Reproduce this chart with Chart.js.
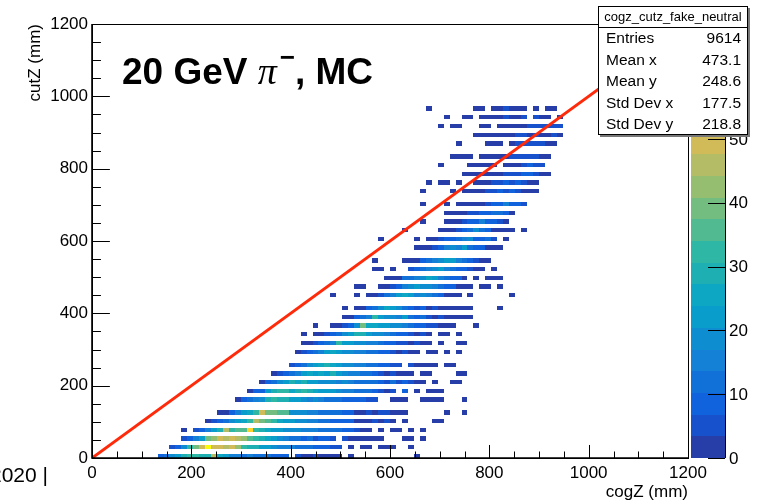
<!DOCTYPE html>
<html>
<head>
<meta charset="utf-8">
<script src="https://cdn.jsdelivr.net/npm/chart.js@4.4.1/dist/chart.umd.min.js"></script>
<style>
  html, body { margin: 0; padding: 0; background: #fff; }
  canvas { display: block; }
</style>
</head>
<body>
<canvas id="c" width="780" height="503"></canvas>
<script>
// ---- histogram binning (mm) ----
const binWidth = 12;                 // 100 bins over 0..1200 on both axes
const axisRange = [0, 1200];
const axisMajorTicks = [0, 200, 400, 600, 800, 1000, 1200];

// cutZ bin centres of the filled rows
const cutZRows = [6, 30, 54, 78, 102, 126, 162, 186, 210, 234, 258,
  294, 318, 342, 366, 390, 414, 450, 474, 498, 522, 546,
  582, 606, 630, 654, 678, 702, 738, 762, 786, 810, 834,
  870, 894, 918, 942, 966];

// first cogZ bin index of every row
const rowFirstBin = [11, 13, 15, 15, 19, 21, 24, 26, 28, 30, 33,
  34, 35, 35, 37, 42, 42, 40, 44, 49, 47, 47,
  54, 48, 52, 55, 59, 55, 55, 56, 62, 58, 60,
  61, 64, 58, 59, 56];

// entries per cogZ bin, starting at rowFirstBin
const rowCounts = [
  [8,12,19,22,29,32,32,29,29,46, 26,22,15,15,12,15,12,12,12,8, 8,8,0,5,3,2,5,2,2,2, 2,0,2,0,0,0,0,0,0,0, 0,0,0,1],
  [5,8,19,32,39,49,67,49,49,46, 49,42,32,29,29,22,22,19,15,15, 15,12,12,12,8,8,8,5,5,0, 2,0,2,1,0,2,1,2,0,0, 1],
  [5,8,15,22,39,42,49,46,49,46, 42,36,32,29,26,22,19,15,12,12, 8,12,5,8,8,5,0,5,2,2, 2,1,2,1,0,0,0,2,2,0, 1],
  [2,0,5,8,15,22,29,46,32,36, 36,60,32,29,26,22,22,19,19,19, 15,15,15,12,12,12,12,8,8,5, 2,2,0,2,0,2,2,0,1,0, 2],
  [2,5,8,12,19,22,26,32,46,39, 36,32,26,22,22,19,19,15,15,12, 12,8,8,8,8,3,2,2,5,2, 5,2,0,2,0,0,0,0,2,2],
  [2,3,8,15,22,26,32,49,39,39, 36,36,19,19,19,15,15,12,12,12, 12,8,8,3,2,5,2,5,5,2, 2,2,0,0,0,0,0,0,2,0, 0,1],
  [2,8,12,15,19,29,32,29,29,22, 22,19,15,19,15,12,12,12,8,8, 8,8,5,5,0,0,2,2,2,0, 0,2,2,1,2,0,0,0,1],
  [2,8,8,22,29,32,32,26,29,32, 29,26,22,22,22,19,15,15,12,12, 12,8,5,2,5,0,8,0,2,0, 2,2,2],
  [2,8,12,19,22,29,26,29,22,22, 19,19,19,15,19,15,12,12,12,12, 8,5,12,5,8,5,2,2,0,2, 0,0,2,1],
  [2,5,8,12,15,22,26,22,26,22, 29,22,19,15,15,12,12,8,5,2, 5,2,2,2,0,2,2,0,0,0, 0,2,2],
  [5,8,12,19,22,26,29,26,22,19, 19,15,15,12,12,8,8,5,5,0, 5,2,2,2,2,0,2,2],
  [2,5,8,12,15,22,26,22,19,19, 15,15,12,12,8,8,5,2,5,2, 2,0,2,2,0,2,0,1],
  [2,2,5,8,12,15,32,22,22,19, 19,15,15,12,8,8,5,5,2,5, 2,2,0,2,0,0,2,2],
  [2,0,2,2,5,8,12,19,22,29, 29,22,19,19,15,12,8,8,5,2, 5,2,0,2,2,0,2],
  [2,0,0,2,2,5,8,19,39,26, 26,22,22,19,19,15,12,8,8,5, 5,2,2,2,0,0,0,1],
  [2,2,8,12,15,32,22,19,19,15, 22,12,8,12,5,2,5,2,2,2, 2,2],
  [2,0,2,2,8,12,19,26,22,19, 12,8,5,8,2,5,2,2,2,2, 2,2,0,0,0,0,2],
  [2,0,0,0,2,0,2,3,5,12, 15,22,26,22,15,19,15,12,8,2, 2,2,0,2,0,0,0,0,0,0, 1],
  [2,2,0,0,2,3,5,8,15,19, 22,19,19,15,12,8,8,2,2,2, 0,2,2,0,1],
  [2,2,3,12,12,15,19,26,22,15, 12,8,8,2,0,2,0,2,2,2],
  [2,2,0,2,0,0,5,8,12,15, 19,22,15,12,8,8,5,2,2,0, 2],
  [2,0,0,0,0,2,2,3,8,12, 15,19,22,22,15,12,8,5,2,2],
  [2,2,3,5,8,15,19,15,22,12, 8,8,2,2,2],
  [2,0,0,0,0,0,2,0,2,2, 5,8,8,12,15,19,8,8,12,5, 0,2],
  [2,0,0,0,0,0,2,2,3,5, 8,12,19,12,8,3,2,2,2,0, 1],
  [2,0,0,0,2,2,2,5,8,8, 15,8,8,5,2],
  [2,2,2,3,5,5,8,8,12,12, 8,2],
  [2,0,0,0,2,0,2,2,2,2, 3,5,8,8,15,8,8,5],
  [2,0,0,0,0,2,0,2,2,2, 3,5,5,8,5,8,5,3,2,2],
  [2,0,2,2,0,2,0,0,2,2, 3,5,5,8,5,8,5,3,2],
  [2,2,2,2,2,3,2,5,5,5, 8,8,5,2,2],
  [2,0,0,0,0,2,2,2,2,2, 0,2,3,3,5,8,5,5],
  [2,2,2,2,0,2,2,2,2,3, 5,5,5,5,5,3,2],
  [2,0,0,0,0,2,2,2,0,2, 5,5,5,5,5,3,2],
  [2,2,2,2,2,2,3,5,5,3, 5,3,2,5,2],
  [2,0,2,2,0,0,0,2,2,0, 2,2,2,2,3,5,5,5,5,5, 5],
  [2,0,0,2,2,0,2,2,2,2, 5,2,2,5,0,5,2,2,0,2],
  [2,0,0,0,0,0,0,0,2,2, 0,2,2,5,3,2,2,0,2,0, 2,2]
];

// colour axis
const paletteMax = 68;
const paletteContours = 20;
const paletteTicks = [0, 10, 20, 30, 40, 50, 60];

// reference line cutZ = cogZ
const diagonal = [{ x: 0, y: 0 }, { x: 1200, y: 1200 }];

// statistics box
const statsTitle = 'cogz_cutz_fake_neutral';
const statsLabels = ['Entries', 'Mean x', 'Mean y', 'Std Dev x', 'Std Dev y'];
const statsValues = ['9614', '473.1', '248.6', '177.5', '218.8'];

// ---- "bird" colour map ----
const birdStops = [0, 0.125, 0.25, 0.375, 0.5, 0.625, 0.75, 0.875, 1];
const birdR = [0.2082, 0.0592, 0.0780, 0.0232, 0.1802, 0.5301, 0.8186, 0.9956, 0.9764];
const birdG = [0.1664, 0.3599, 0.5041, 0.6419, 0.7178, 0.7492, 0.7328, 0.7862, 0.9832];
const birdB = [0.5293, 0.8684, 0.8385, 0.7914, 0.6425, 0.4662, 0.3499, 0.1968, 0.0539];

function bird(f) {
  f = Math.min(1, Math.max(0, f));
  let i = 0;
  while (i < birdStops.length - 2 && f > birdStops[i + 1]) i++;
  const t = (f - birdStops[i]) / (birdStops[i + 1] - birdStops[i]);
  const c = a => Math.round(255 * (a[i] + t * (a[i + 1] - a[i])));
  return `rgb(${c(birdR)},${c(birdG)},${c(birdB)})`;
}
const nColours = 255;
function bandColour(band) {
  const idx = Math.min(nColours - 1, Math.floor((band + 0.99) * nColours / paletteContours));
  return bird(idx / (nColours - 1));
}
function cellColour(n) {
  const band = Math.floor(0.01 + n * paletteContours / paletteMax);
  return bandColour(Math.min(band, paletteContours));
}

const FONT = '"Liberation Sans", Arial, Helvetica, sans-serif';

// ---- cells of the 2D histogram ----
const heatmapPlugin = {
  id: 'heatmap',
  beforeDatasetsDraw(chart) {
    const { ctx, chartArea: a, scales: { x, y } } = chart;
    ctx.save();
    ctx.beginPath();
    ctx.rect(a.left, a.top, a.right - a.left, a.bottom - a.top);
    ctx.clip();
    cutZRows.forEach((yc, r) => {
      const yTop = Math.round(y.getPixelForValue(yc + binWidth / 2));
      const yBot = Math.round(y.getPixelForValue(yc - binWidth / 2));
      rowCounts[r].forEach((n, j) => {
        if (!n) return;
        const b = rowFirstBin[r] + j;
        const x0 = Math.round(x.getPixelForValue(b * binWidth));
        const x1 = Math.round(x.getPixelForValue((b + 1) * binWidth));
        ctx.fillStyle = cellColour(n);
        ctx.fillRect(x0, yTop, x1 - x0, yBot - yTop);
      });
    });
    ctx.restore();
  }
};

// ---- frame and inward tick marks ----
const framePlugin = {
  id: 'frame',
  afterDatasetsDraw(chart) {
    const { ctx, chartArea: a, scales: { x, y } } = chart;
    const minorStep = (axisMajorTicks[1] - axisMajorTicks[0]) / 4;
    ctx.save();
    ctx.strokeStyle = '#000';
    ctx.lineWidth = 1;
    ctx.strokeRect(Math.round(a.left) + 0.5, Math.round(a.top) + 0.5,
      Math.round(a.right - a.left), Math.round(a.bottom - a.top));
    const xLen = 0.03 * (a.bottom - a.top);
    const yLen = 0.03 * (a.right - a.left);
    ctx.beginPath();
    for (let v = axisRange[0]; v <= axisRange[1]; v += minorStep) {
      const major = axisMajorTicks.includes(v);
      const px = Math.round(x.getPixelForValue(v)) + 0.5;
      ctx.moveTo(px, a.bottom);
      ctx.lineTo(px, a.bottom - (major ? xLen : xLen / 2));
      const py = Math.round(y.getPixelForValue(v)) + 0.5;
      ctx.moveTo(a.left, py);
      ctx.lineTo(a.left + (major ? yLen : yLen / 2), py);
    }
    ctx.stroke();
    // heavier axis lines
    ctx.lineWidth = 1.6;
    ctx.beginPath();
    ctx.moveTo(a.left, a.top);
    ctx.lineTo(a.left, a.bottom);
    ctx.lineTo(a.right, a.bottom);
    ctx.stroke();
    ctx.restore();
  }
};

// ---- palette, statistics box and labels ----
const overlayPlugin = {
  id: 'overlay',
  afterDraw(chart) {
    const { ctx, chartArea: a, scales: { z } } = chart;
    ctx.save();

    // colour palette
    const pL = a.right + 3, pR = a.right + 37;
    for (let i = 0; i < paletteContours; i++) {
      const lo = i * paletteMax / paletteContours, hi = (i + 1) * paletteMax / paletteContours;
      const y0 = Math.round(z.getPixelForValue(lo)), y1 = Math.round(z.getPixelForValue(hi));
      ctx.fillStyle = bandColour(i);
      ctx.fillRect(pL, y1, pR - pL, y0 - y1);
    }
    ctx.strokeStyle = '#000';
    ctx.lineWidth = 1;
    ctx.beginPath();
    ctx.moveTo(pR + 0.5, a.top);
    ctx.lineTo(pR + 0.5, a.bottom);
    paletteTicks.forEach(v => {
      const py = Math.round(z.getPixelForValue(v)) + 0.5;
      ctx.moveTo(pR, py);
      ctx.lineTo(pR - 17, py);
    });
    ctx.stroke();
    ctx.fillStyle = '#000';
    ctx.font = `17px ${FONT}`;
    ctx.textAlign = 'left';
    ctx.textBaseline = 'middle';
    paletteTicks.forEach(v => ctx.fillText(String(v), pR + 4, z.getPixelForValue(v) + 1));

    // statistics box
    const bx = 598, by = 6, bw = 150, bh = 129;
    ctx.fillStyle = '#777';
    ctx.fillRect(bx + 2, by + 2, bw, bh);
    ctx.fillStyle = '#fff';
    ctx.fillRect(bx, by, bw, bh);
    ctx.strokeStyle = '#000';
    ctx.strokeRect(bx + 0.5, by + 0.5, bw - 1, bh - 1);
    ctx.beginPath();
    ctx.moveTo(bx, by + 21.5);
    ctx.lineTo(bx + bw, by + 21.5);
    ctx.stroke();
    ctx.fillStyle = '#000';
    ctx.font = `13px ${FONT}`;
    ctx.textAlign = 'center';
    ctx.fillText(statsTitle, bx + bw / 2, by + 11);
    ctx.font = `15.5px ${FONT}`;
    statsLabels.forEach((lab, i) => {
      const ty = by + 33 + i * 21.5;
      ctx.textAlign = 'left';
      ctx.fillText(lab, bx + 8, ty);
      ctx.textAlign = 'right';
      ctx.fillText(statsValues[i], bx + bw - 7, ty);
    });

    // plot label
    ctx.textAlign = 'left';
    ctx.textBaseline = 'alphabetic';
    let tx = 122;
    const base = 84;
    ctx.font = `bold 37px ${FONT}`;
    ctx.fillText('20 GeV ', tx, base);
    tx += ctx.measureText('20 GeV ').width;
    ctx.font = `italic 38px "Liberation Serif", "Times New Roman", serif`;
    ctx.fillText('\u03C0', tx, base);
    tx += ctx.measureText('\u03C0').width + 3;
    ctx.font = `bold 26px ${FONT}`;
    ctx.fillText('\u2212', tx, base - 18);
    tx += ctx.measureText('\u2212').width;
    ctx.font = `bold 37px ${FONT}`;
    ctx.fillText(', MC', tx, base);

    // clipped caption at the lower left
    ctx.font = `21px ${FONT}`;
    ctx.textAlign = 'right';
    ctx.fillText('2020 |', 48, 482);

    ctx.restore();
  }
};

new Chart(document.getElementById('c').getContext('2d'), {
  type: 'scatter',
  data: {
    datasets: [{
      type: 'line',
      data: diagonal,
      xAxisID: 'x',
      yAxisID: 'y',
      borderColor: '#ff2a0a',
      borderWidth: 3,
      pointRadius: 0,
      fill: false,
      tension: 0
    }]
  },
  options: {
    responsive: false,
    animation: false,
    devicePixelRatio: 1,
    layout: { padding: { left: 0, top: 24, right: 92, bottom: 0 } },
    plugins: { legend: { display: false }, tooltip: { enabled: false } },
    scales: {
      x: {
        type: 'linear', position: 'bottom', min: axisRange[0], max: axisRange[1],
        grid: { display: false, drawTicks: false },
        border: { display: false },
        ticks: { stepSize: 200, padding: 5, color: '#000', maxRotation: 0, autoSkip: false,
                 font: { family: FONT, size: 17 }, callback: v => String(v) },
        title: { display: true, text: 'cogZ (mm)', align: 'end', color: '#000',
                 font: { family: FONT, size: 17 }, padding: { top: 0, bottom: 0 } },
        afterFit(s) { s.height = 45; }
      },
      y: {
        type: 'linear', position: 'left', min: axisRange[0], max: axisRange[1],
        grid: { display: false, drawTicks: false },
        border: { display: false },
        ticks: { stepSize: 200, padding: 4, color: '#000', autoSkip: false,
                 font: { family: FONT, size: 17 }, callback: v => String(v) },
        title: { display: true, text: 'cutZ (mm)', align: 'end', color: '#000',
                 font: { family: FONT, size: 17 }, padding: { top: 25, bottom: 0 } },
        afterFit(s) { s.width = 92; }
      },
      z: {
        type: 'linear', axis: 'y', position: 'right', display: false,
        min: 0, max: paletteMax
      }
    }
  },
  plugins: [heatmapPlugin, framePlugin, overlayPlugin]
});
</script>
</body>
</html>
